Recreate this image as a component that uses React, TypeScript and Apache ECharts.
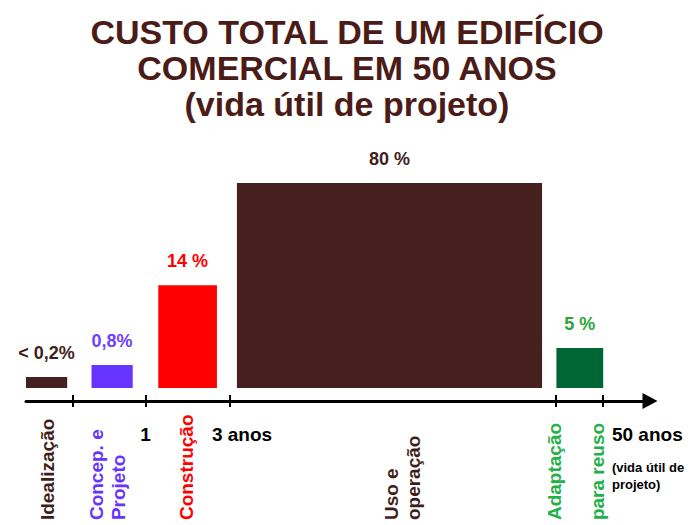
import { useEffect, useRef } from "react";
import * as echarts from "echarts";

// ---- data (schematic time units 0..100 along the axis, heights in relative units) ----
const phases = ["Idealização", "Concep. e\nProjeto", "Construção", "Uso e\noperação", "Adaptação\npara reuso"];
const shareLabels = ["< 0,2%", "0,8%", "14 %", "80 %", "5 %"];
const barStart = [0, 10.5, 21.2, 33.8, 85];
const barEnd = [6.6, 17.1, 30.6, 82.7, 92.5];
const barHeight = [5.4, 11.2, 50.2, 100, 19.5];
const phaseLabelX = [3.4, 13.1, 25.8, 60.3, 88.1];
const tickValues = [7.5, 19.2, 32.7, 84.9, 92.5];
const timeLabels = ["1", "3 anos", "50 anos"];
const timeLabelX = [18.3, 29.8, 93.9];
const timeNote = "(vida útil de\nprojeto)";

// ---- styles ----
const FONT = '"Liberation Sans", Arial, sans-serif';
const barColors = ["#45201e", "#6633ff", "#ff0000", "#45201e", "#006633"];
const shareColors = ["#3f1e1a", "#7040ff", "#ff0000", "#3f1e1a", "#2fa33a"];
const phaseColors = ["#3f1e1a", "#6633ff", "#ff0000", "#3f1e1a", "#22b04b"];

export default function App() {
  const ref = useRef<HTMLDivElement>(null);
  useEffect(() => {
    document.body.style.margin = "0";
    const chart = echarts.init(ref.current!, undefined, { renderer: "svg" });
    const axisCommon = {
      type: "value" as const,
      min: 0,
      max: 100,
      position: "bottom" as const,
      splitLine: { show: false },
      axisLabel: { show: false },
    };
    chart.setOption({
      animation: false,
      title: {
        text: "CUSTO TOTAL DE UM EDIFÍCIO\nCOMERCIAL EM 50 ANOS\n(vida útil de projeto)",
        left: "center",
        top: 9,
        textStyle: {
          fontSize: 34,
          fontWeight: "bold",
          color: "#4b1c17",
          lineHeight: 36,
          fontFamily: FONT,
        },
      },
      grid: { left: 26, right: 44, top: 183, bottom: 124 },
      xAxis: [
        {
          ...axisCommon,
          axisLine: {
            show: true,
            onZero: false,
            symbol: ["none", "triangle"],
            symbolSize: [16, 15],
            lineStyle: { color: "#000", width: 3 },
          },
          axisTick: {
            show: true,
            customValues: tickValues,
            length: 6,
            lineStyle: { color: "#000", width: 2 },
          },
        },
        {
          ...axisCommon,
          axisLine: { show: false, onZero: false },
          axisTick: {
            show: true,
            inside: true,
            customValues: tickValues,
            length: 6,
            lineStyle: { color: "#000", width: 2 },
          },
        },
      ],
      yAxis: { type: "value", min: -6.3, max: 100, show: false },
      series: [
        {
          type: "custom",
          clip: false,
          data: barStart.map((s, i) => [s, barEnd[i], barHeight[i]]),
          renderItem: (params: any, api: any) => {
            const i = params.dataIndex;
            const p0 = api.coord([api.value(0), 0]);
            const p1 = api.coord([api.value(1), api.value(2)]);
            return {
              type: "group",
              children: [
                {
                  type: "rect",
                  shape: { x: p0[0], y: p1[1], width: p1[0] - p0[0], height: p0[1] - p1[1] },
                  style: { fill: barColors[i] },
                },
                {
                  type: "text",
                  x: (p0[0] + p1[0]) / 2,
                  y: p1[1] - 24,
                  style: {
                    text: shareLabels[i],
                    fill: shareColors[i],
                    font: `bold 18px ${FONT}`,
                    align: "center",
                    verticalAlign: "middle",
                  },
                },
              ],
            };
          },
        },
        {
          type: "custom",
          clip: false,
          data: phaseLabelX.map((x) => [x]),
          renderItem: (params: any, api: any) => {
            const i = params.dataIndex;
            const p = api.coord([api.value(0), 0]);
            return {
              type: "text",
              x: p[0],
              y: p[1] + 132,
              rotation: Math.PI / 2,
              style: {
                text: phases[i],
                fill: phaseColors[i],
                font: `bold 19px ${FONT}`,
                lineHeight: i === 4 ? 43 : 22,
                align: "left",
                verticalAlign: "middle",
              },
            };
          },
        },
        {
          type: "custom",
          clip: false,
          data: timeLabelX.map((x) => [x]),
          renderItem: (params: any, api: any) => {
            const i = params.dataIndex;
            const p = api.coord([api.value(0), 0]);
            const children: any[] = [
              {
                type: "text",
                x: p[0],
                y: p[1] + 46,
                style: {
                  text: timeLabels[i],
                  fill: "#000",
                  font: `bold 19px ${FONT}`,
                  align: "left",
                  verticalAlign: "middle",
                },
              },
            ];
            if (i === timeLabels.length - 1) {
              children.push({
                type: "text",
                x: p[0],
                y: p[1] + 71,
                style: {
                  text: timeNote,
                  fill: "#000",
                  font: `bold 13px ${FONT}`,
                  lineHeight: 17,
                  align: "left",
                  verticalAlign: "top",
                },
              });
            }
            return { type: "group", children };
          },
        },
      ],
    });
    return () => chart.dispose();
  }, []);
  return <div ref={ref} style={{ width: 694, height: 525 }} />;
}
